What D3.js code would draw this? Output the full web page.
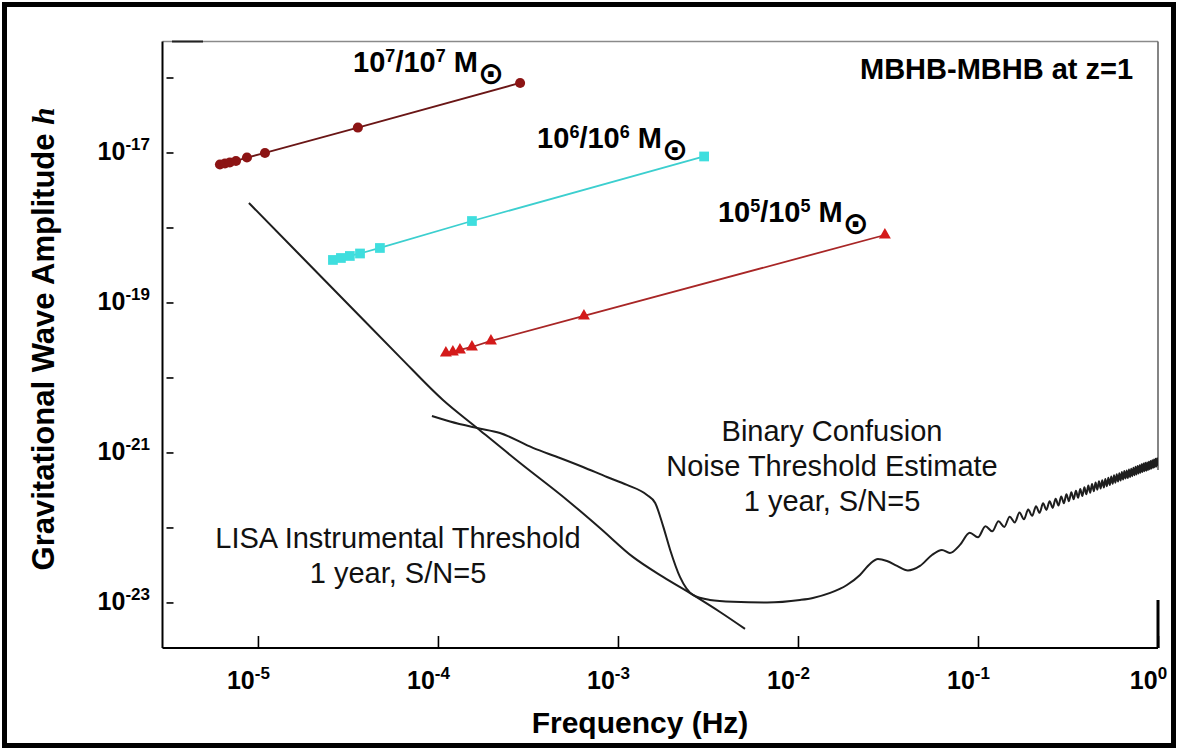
<!DOCTYPE html>
<html lang="en">
<head>
<meta charset="utf-8">
<title>MBHB-MBHB at z=1</title>
<script src="https://cdn.jsdelivr.net/npm/d3@7/dist/d3.min.js"></script>
<style>
  html, body { margin: 0; padding: 0; background: #fff; }
  svg { display: block; font-family: "Liberation Sans", Arial, sans-serif; }
  text { white-space: pre; }
</style>
</head>
<body>
<svg id="chart" width="1178" height="750"></svg>
<script>
// ---------------- data ----------------
// Axis decades
const xTickExp  = [-5, -4, -3, -2, -1, 0];
const yTickExp  = [-16, -17, -18, -19, -20, -21, -22, -23];
const yLabelExp = [-17, -19, -21, -23];

// Massive black hole binaries at z=1: frequency (Hz) and strain h along the inspiral
const massExp = [7, 6, 5];

const bhb7Freq = [6.15e-6, 6.56e-6, 6.98e-6, 7.55e-6, 8.69e-6, 1.094e-5, 3.59e-5, 2.86e-4];
const bhb7H    = [6.92e-18, 7.13e-18, 7.36e-18, 7.71e-18, 8.57e-18, 9.85e-18, 2.15e-17, 8.45e-17];

const bhb6Freq = [2.61e-5, 2.89e-5, 3.24e-5, 3.69e-5, 4.76e-5, 1.545e-4, 3.01e-3];
const bhb6H    = [3.69e-19, 3.92e-19, 4.17e-19, 4.50e-19, 5.33e-19, 1.22e-18, 8.85e-18];

const bhb5Freq = [1.107e-4, 1.21e-4, 1.325e-4, 1.545e-4, 1.97e-4, 6.47e-4, 3.04e-2];
const bhb5H    = [2.12e-20, 2.19e-20, 2.33e-20, 2.55e-20, 3.07e-20, 6.61e-20, 7.94e-19];

// LISA instrumental threshold, 1 year, S/N=5
const instFreq = [8.91e-6, 1.71e-5, 3.24e-5, 6.15e-5, 1.066e-4, 1.65e-4, 2.86e-4,
                  5.21e-4, 7.94e-4, 1.21e-3, 1.78e-3, 2.61e-3, 3.69e-3, 5.08e-3];
const instH    = [2.12e-18, 4.30e-19, 8.98e-20, 1.87e-20, 5.01e-21, 2.12e-21, 7.24e-22,
                  2.33e-22, 9.85e-23, 4.05e-23, 2.19e-23, 1.26e-23, 7.46e-24, 4.44e-24];

// Binary confusion noise threshold estimate, 1 year, S/N=5
const confFreq = [
  9.26e-5, 1.167e-4, 1.65e-4, 2.21e-4, 3.37e-4, 4.76e-4, 6.39e-4, 8.69e-4,
  1.122e-3, 1.45e-3, 1.61e-3, 1.78e-3, 1.95e-3, 2.21e-3, 2.61e-3, 3.24e-3,
  4.36e-3, 6.73e-3, 1.026e-2, 1.21e-2, 1.51e-2, 1.87e-2, 2.21e-2, 2.51e-2,
  2.78e-2, 3.12e-2, 3.55e-2, 4.08e-2, 4.76e-2, 5.55e-2, 6.31e-2, 6.98e-2, 7.94e-2,
  0.09, 0.10, 0.11, 0.12, 0.13, 0.14, 0.15, 0.16, 0.17, 0.18, 0.19, 0.20,
  0.21, 0.22, 0.23, 0.24, 0.25, 0.26, 0.27, 0.28, 0.29, 0.30, 0.31, 0.32,
  0.33, 0.34, 0.35, 0.36, 0.37, 0.38, 0.39, 0.40, 0.41, 0.42, 0.43, 0.44,
  0.45, 0.46, 0.47, 0.48, 0.49, 0.50, 0.51, 0.52, 0.53, 0.54, 0.55, 0.56,
  0.57, 0.58, 0.59, 0.60, 0.61, 0.62, 0.63, 0.64, 0.65, 0.66, 0.67, 0.68,
  0.69, 0.70, 0.71, 0.72, 0.73, 0.74, 0.75, 0.76, 0.77, 0.78, 0.79, 0.80,
  0.81, 0.82, 0.83, 0.84, 0.85, 0.86, 0.87, 0.88, 0.89, 0.90, 0.91, 0.92,
  0.93, 0.94, 0.95, 0.96, 0.97, 0.98, 0.99, 1.00
];
const confH = [
  3.07e-21, 2.59e-21, 2.12e-21, 1.82e-21, 1.15e-21, 8.45e-22, 6.41e-22, 4.71e-22,
  3.69e-22, 2.71e-22, 2.12e-22, 1.05e-22, 5.01e-23, 2.19e-23, 1.26e-23, 1.08e-23,
  1.02e-23, 1.00e-23, 1.08e-23, 1.15e-23, 1.34e-23, 1.71e-23, 2.33e-23, 3.26e-23,
  3.80e-23, 3.57e-23, 3.07e-23, 2.67e-23, 3.07e-23, 4.30e-23, 5.01e-23, 4.57e-23, 5.85e-23,
  8.51e-23, 7.40e-23, 1.040e-22, 8.88e-23, 1.206e-22, 1.018e-22, 1.392e-22, 1.163e-22,
  1.578e-22, 1.285e-22, 1.733e-22, 1.428e-22, 1.915e-22, 1.571e-22, 2.098e-22, 1.714e-22,
  2.238e-22, 1.823e-22, 2.417e-22, 1.963e-22, 2.596e-22, 2.103e-22, 2.775e-22, 2.243e-22,
  2.954e-22, 2.383e-22, 3.087e-22, 2.488e-22, 3.263e-22, 2.626e-22, 3.440e-22, 2.764e-22,
  3.616e-22, 2.902e-22, 3.793e-22, 3.040e-22, 3.969e-22, 3.179e-22, 4.145e-22, 3.317e-22,
  4.258e-22, 3.405e-22, 4.432e-22, 3.541e-22, 4.606e-22, 3.677e-22, 4.780e-22, 3.814e-22,
  4.953e-22, 3.950e-22, 5.127e-22, 4.086e-22, 5.301e-22, 4.222e-22, 5.475e-22, 4.358e-22,
  5.649e-22, 4.495e-22, 5.742e-22, 4.563e-22, 5.913e-22, 4.697e-22, 6.085e-22, 4.831e-22,
  6.256e-22, 4.965e-22, 6.428e-22, 5.100e-22, 6.599e-22, 5.234e-22, 6.770e-22, 5.368e-22,
  6.942e-22, 5.502e-22, 7.113e-22, 5.636e-22, 7.285e-22, 5.702e-22, 7.369e-22, 5.834e-22,
  7.538e-22, 5.967e-22, 7.708e-22, 6.100e-22, 7.877e-22, 6.232e-22, 8.047e-22, 6.365e-22,
  8.216e-22, 6.497e-22, 8.385e-22, 6.630e-22
];

// ---------------- layout ----------------
const W = 1178, H = 750;
const plot = { left: 162.5, right: 1158, top: 41.5, bottom: 648 };

const x = d3.scaleLog().domain([2.95e-6, 1]).range([plot.left, plot.right]);
const y = d3.scaleLog().domain([2.47e-24, 3.02e-16]).range([plot.bottom, plot.top]);

const zip = (a, b) => a.map((v, i) => [v, b[i]]);

const svg = d3.select("#chart");
svg.append("rect").attr("width", W).attr("height", H).attr("fill", "#fff");

svg.append("defs").append("clipPath").attr("id", "plot-clip")
  .append("rect")
  .attr("x", plot.left).attr("y", plot.top)
  .attr("width", plot.right - plot.left).attr("height", plot.bottom - plot.top);

// Figure frame
svg.append("rect")
  .attr("x", 4.5).attr("y", 4.5)
  .attr("width", W - 9).attr("height", H - 9)
  .attr("fill", "none").attr("stroke", "#000").attr("stroke-width", 5);

// ---------------- plot box ----------------
const box = svg.append("g").attr("fill", "none");
box.append("line")   // top edge
  .attr("x1", plot.left).attr("x2", plot.right)
  .attr("y1", plot.top).attr("y2", plot.top)
  .attr("stroke", "#8a8a8a").attr("stroke-width", 1.6);
box.append("line")   // darker stub at the top-left corner
  .attr("x1", 172).attr("x2", 203)
  .attr("y1", plot.top).attr("y2", plot.top)
  .attr("stroke", "#222").attr("stroke-width", 2);
box.append("line")   // right edge, upper part
  .attr("x1", plot.right).attr("x2", plot.right)
  .attr("y1", plot.top).attr("y2", 470)
  .attr("stroke", "#666").attr("stroke-width", 1.6);
box.append("line")   // right edge, lower part
  .attr("x1", plot.right).attr("x2", plot.right)
  .attr("y1", 600).attr("y2", plot.bottom)
  .attr("stroke", "#000").attr("stroke-width", 3);
box.append("line")   // left axis
  .attr("x1", plot.left).attr("x2", plot.left)
  .attr("y1", plot.top).attr("y2", plot.bottom)
  .attr("stroke", "#000").attr("stroke-width", 2);
box.append("line")   // bottom axis
  .attr("x1", plot.left).attr("x2", plot.right)
  .attr("y1", plot.bottom).attr("y2", plot.bottom)
  .attr("stroke", "#000").attr("stroke-width", 2);

// power-of-ten label: "10" with a raised exponent
function powerLabel(t, exp, baseSize, supSize, rise) {
  t.append("tspan").attr("font-size", baseSize).text("10");
  t.append("tspan").attr("font-size", supSize).attr("dy", -rise).text(String(exp));
}

// ---------------- x axis ----------------
const gx = svg.append("g")
  .attr("transform", `translate(0,${plot.bottom})`)
  .call(d3.axisBottom(x)
    .tickValues(xTickExp.map(e => Math.pow(10, e)))
    .tickSize(-12)
    .tickFormat(() => ""));
gx.select(".domain").remove();
gx.selectAll(".tick line").attr("stroke", "#000").attr("stroke-width", 1.6);
gx.selectAll(".tick text").remove();
gx.selectAll(".tick").append("text")
  .attr("x", -10).attr("y", 41)
  .attr("text-anchor", "middle")
  .attr("font-weight", "bold")
  .attr("fill", "#000")
  .each(function (d) {
    powerLabel(d3.select(this), Math.round(Math.log10(d)), 25, 17, 10);
  });

// ---------------- y axis ----------------
const gy = svg.append("g")
  .attr("transform", `translate(${plot.left + 4},0)`)
  .call(d3.axisRight(y)
    .tickValues(yTickExp.map(e => Math.pow(10, e)))
    .tickSize(7)
    .tickFormat(() => ""));
gy.select(".domain").remove();
gy.selectAll(".tick line").attr("stroke", "#000").attr("stroke-width", 1.6);
gy.selectAll(".tick text").remove();

svg.append("g").selectAll("text")
  .data(yLabelExp)
  .join("text")
  .attr("x", 150)
  .attr("y", d => y(Math.pow(10, d)) + 8)
  .attr("text-anchor", "end")
  .attr("font-weight", "bold")
  .attr("fill", "#000")
  .each(function (d) { powerLabel(d3.select(this), d, 25, 17, 10); });

// ---------------- axis titles ----------------
svg.append("text")
  .attr("x", 640).attr("y", 733)
  .attr("text-anchor", "middle")
  .attr("font-size", 30).attr("font-weight", "bold")
  .text("Frequency (Hz)");

const yTitle = svg.append("text")
  .attr("transform", "translate(54,339) rotate(-90)")
  .attr("text-anchor", "middle")
  .attr("font-size", 31).attr("font-weight", "bold");
yTitle.append("tspan").text("Gravitational Wave Amplitude ");
yTitle.append("tspan")
  .attr("font-family", "'Liberation Serif', 'Times New Roman', serif")
  .attr("font-style", "italic")
  .text("h");

// ---------------- sensitivity curves ----------------
const curves = svg.append("g").attr("clip-path", "url(#plot-clip)");
const smooth = d3.line().x(d => x(d[0])).y(d => y(d[1])).curve(d3.curveMonotoneX);

curves.append("path")
  .datum(zip(instFreq, instH))
  .attr("d", smooth)
  .attr("fill", "none").attr("stroke", "#1e1e1e").attr("stroke-width", 2);

curves.append("path")
  .datum(zip(confFreq, confH))
  .attr("d", smooth)
  .attr("fill", "none").attr("stroke", "#1e1e1e").attr("stroke-width", 2)
  .attr("stroke-linejoin", "round");

// ---------------- MBHB tracks ----------------
const series = [
  { exp: massExp[0], f: bhb7Freq, h: bhb7H, line: "#6a1616", fill: "#8c1414", symbol: d3.symbolCircle,   size: 80, labelDy: -11.3 },
  { exp: massExp[1], f: bhb6Freq, h: bhb6H, line: "#3ccfcf", fill: "#3fdede", symbol: d3.symbolSquare,   size: 95, labelDy: -8.2 },
  { exp: massExp[2], f: bhb5Freq, h: bhb5H, line: "#a82626", fill: "#d41a1a", symbol: d3.symbolTriangle, size: 62, labelDy: -13.3 }
];
const straight = d3.line().x(d => x(d[0])).y(d => y(d[1]));

series.forEach(s => {
  const pts = zip(s.f, s.h);
  const g = svg.append("g");
  g.append("path")
    .datum(pts)
    .attr("d", straight)
    .attr("fill", "none").attr("stroke", s.line).attr("stroke-width", 1.8);
  g.selectAll("path.mark")
    .data(pts)
    .join("path")
    .attr("class", "mark")
    .attr("transform", d => `translate(${x(d[0])},${y(d[1])})`)
    .attr("d", d3.symbol(s.symbol, s.size))
    .attr("fill", s.fill);

  // mass label placed up and to the left of the track's last point
  const last = pts[pts.length - 1];
  const t = g.append("text")
    .attr("x", x(last[0]) - 167)
    .attr("y", y(last[1]) + s.labelDy)
    .attr("font-weight", "bold")
    .attr("font-size", 29)
    .attr("fill", "#000");
  t.append("tspan").text("10");
  t.append("tspan").attr("font-size", 18).attr("dy", -10).text(String(s.exp));
  t.append("tspan").attr("dy", 10).text("/10");
  t.append("tspan").attr("font-size", 18).attr("dy", -10).text(String(s.exp));
  t.append("tspan").attr("dy", 10).text(" M");
  t.append("tspan")
    .attr("font-family", "'DejaVu Sans', sans-serif")
    .attr("font-size", 31)
    .attr("dy", 12)
    .text("\u2299");
});

// ---------------- annotations ----------------
svg.append("text")
  .attr("x", 860).attr("y", 79)
  .attr("font-size", 29).attr("font-weight", "bold")
  .text("MBHB-MBHB at z=1");

function block(lines, cx, y0, step) {
  svg.append("g").selectAll("text")
    .data(lines)
    .join("text")
    .attr("x", cx)
    .attr("y", (d, i) => y0 + i * step)
    .attr("text-anchor", "middle")
    .attr("font-size", 29)
    .attr("fill", "#111")
    .text(d => d);
}
block(["LISA Instrumental Threshold", "1 year, S/N=5"], 398, 548, 35);
block(["Binary Confusion", "Noise Threshold Estimate", "1 year, S/N=5"], 832, 441, 35);
</script>
</body>
</html>
